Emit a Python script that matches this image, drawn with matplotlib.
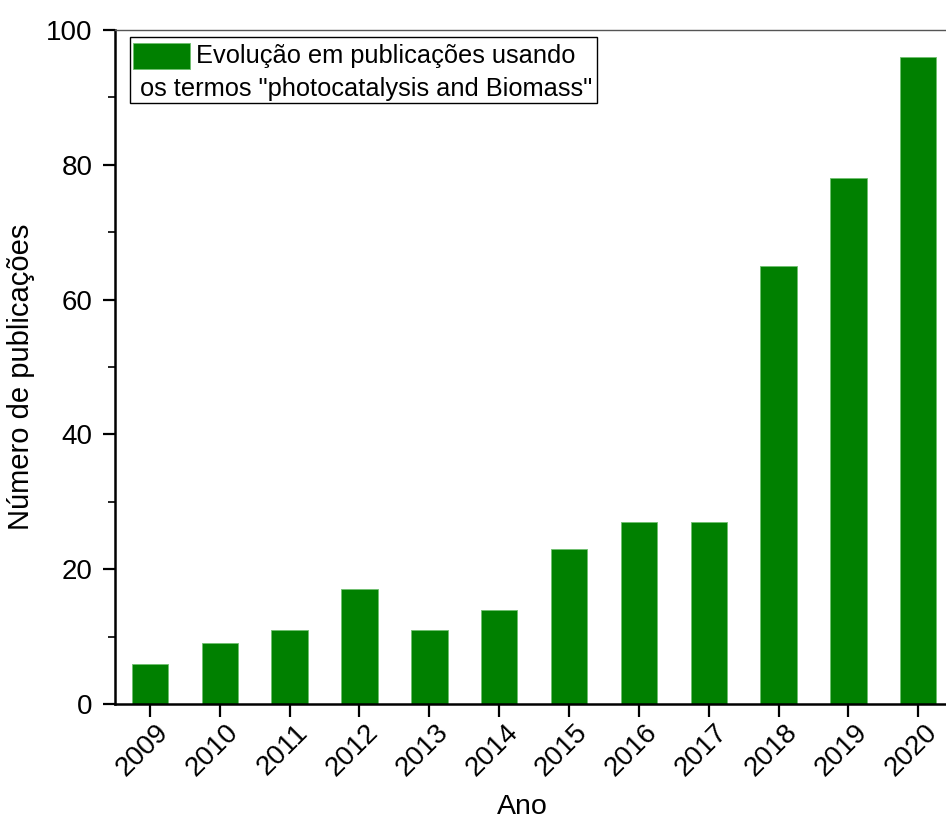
import matplotlib
matplotlib.use("Agg")
import matplotlib.pyplot as plt
import matplotlib.transforms as mtransforms
from matplotlib.patches import Rectangle
from matplotlib.ticker import MultipleLocator

years = [2009, 2010, 2011, 2012, 2013, 2014, 2015, 2016, 2017, 2018, 2019, 2020]
publications = [6, 9, 11, 17, 11, 14, 23, 27, 27, 65, 78, 96]
legend_line1 = "Evolução em publicações usando"
legend_line2 = 'os termos "photocatalysis and Biomass"'

plt.rcParams["font.family"] = ["Liberation Sans", "DejaVu Sans"]

fig = plt.figure(figsize=(9.46, 8.19), dpi=100)
# axes runs a bit past the right edge, like the cropped original
ax = fig.add_axes([0.1216, 0.1404, 0.886, 0.823])

ax.bar(years, publications, width=0.52, color="#008000",
       edgecolor="#6fbf6f", linewidth=0.6, zorder=2)

ax.set_xlim(2008.5, 2020.5)
ax.set_ylim(0, 100)
ax.set_xticks(years)
ax.set_xticklabels([str(y) for y in years], rotation=45, ha="center")
ax.yaxis.set_major_locator(MultipleLocator(20))
ax.yaxis.set_minor_locator(MultipleLocator(10))

ax.tick_params(axis="both", which="major", direction="out", length=9,
               width=1.6, labelsize=20)
ax.tick_params(axis="y", which="major", pad=7)
ax.tick_params(axis="x", which="major", pad=4)
ax.tick_params(axis="y", which="minor", direction="out", length=5, width=1.2)

# nudge the rotated year labels a little left/up
shift = mtransforms.ScaledTranslation(-0.07, 0.03, fig.dpi_scale_trans)
for lbl in ax.get_xticklabels():
    lbl.set_transform(lbl.get_transform() + shift)

for side in ["left", "bottom"]:
    ax.spines[side].set_linewidth(1.8)
    ax.spines[side].set_color("black")
ax.spines["top"].set_linewidth(1.0)
ax.spines["top"].set_color("#555555")
ax.spines["right"].set_visible(False)

ax.set_xlabel("Ano", fontsize=20.5)
ax.xaxis.set_label_coords(0.486, -0.133)
ax.set_ylabel("Número de publicações", fontsize=21)
ax.yaxis.set_label_coords(-0.095, 0.485)

# Origin-style legend box
ax.add_patch(Rectangle((0.0179, 0.892), 0.557, 0.0976, transform=ax.transAxes,
                       facecolor="white", edgecolor="black", linewidth=1.0,
                       zorder=5))
ax.add_patch(Rectangle((0.0215, 0.942), 0.068, 0.0385, transform=ax.transAxes,
                       facecolor="#008000", edgecolor="#6fbf6f", linewidth=0.6,
                       zorder=6))
ax.text(0.0967, 0.9614, legend_line1, transform=ax.transAxes, fontsize=18.3,
        va="center", ha="left", zorder=7)
ax.text(0.0298, 0.9125, legend_line2, transform=ax.transAxes, fontsize=18.3,
        va="center", ha="left", zorder=7)

fig.savefig("out.png", dpi=100)
